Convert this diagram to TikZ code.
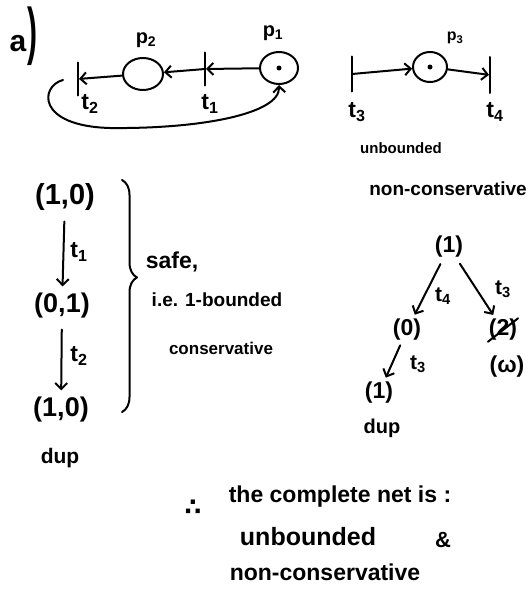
\documentclass[tikz,border=0pt]{standalone}
\usepackage{fontspec}
\setmainfont{Liberation Sans}
\newfontfamily\dejavu{DejaVu Sans}
\usetikzlibrary{arrows.meta,shapes.geometric,decorations.pathreplacing}
\begin{document}
\begin{tikzpicture}[x=1pt,y=-1pt, line width=2pt, line cap=round, line join=round,
  fs/.style={font=\fontsize{#1}{#1}\selectfont\bfseries},
  txt/.style={inner sep=0pt},
  place/.style={draw, ellipse, inner sep=0pt},
  bar/.style={draw, rectangle, minimum width=0pt, inner sep=0pt},
  tok/.style={fill, circle, inner sep=0pt, minimum size=5pt},
  arr/.style={-{Straight Barb[length=6pt,width=12pt,line width=2pt]}},
  bracedeco/.style={decorate, decoration={brace, amplitude=15pt, aspect=0.42}},
]
\useasboundingbox (0,0) rectangle (530,589);

% a)
\node[txt,fs=30] (a) at (18,44) {a};
\node[txt,anchor=north,fs=30] (par) at (32,6) {\scalebox{1}[2.1]{)}};

% left net
\node[place, minimum width=40pt, minimum height=32pt] (p2) at (143,74) {};
\node[place, minimum width=38pt, minimum height=32pt] (p1) at (279,68) {};
\node[tok] (k1) at (p1) {};
\node[bar, minimum height=33pt] (t1) at (205,69) {};
\node[bar, minimum height=33pt] (t2) at (78,79) {};
\draw[arr] (p1) -- (t1);
\draw[arr] (t1) -- (p2);
\draw[arr] (p2) -- (t2);
\coordinate (l0) at (63,80);
\draw[arr] (l0) .. controls (40,86) and (36,126) .. (110,128)
  .. controls (200,129) and (280,114) .. (p1.south);
\node[txt,fs=20] (lp2) at (146,40) {p\textsubscript{2}};
\node[txt,fs=20] (lp1) at (273,33) {p\textsubscript{1}};
\node[txt,fs=23] (lt1) at (210,104) {t\textsubscript{1}};
\node[txt,fs=23] (lt2) at (90,104) {t\textsubscript{2}};

% right net
\node[bar, minimum height=35pt] (t3) at (352,74) {};
\node[place, minimum width=34pt, minimum height=30pt] (p3) at (430,67) {};
\node[tok] (k3) at (p3) {};
\node[bar, minimum height=36pt] (t4) at (490,75) {};
\draw[arr] (t3) -- (p3);
\draw[arr] (p3) -- (t4);
\node[txt,fs=16] (lp3) at (455,38) {p\textsubscript{3}};
\node[txt,fs=23] (lt3) at (357,112) {t\textsubscript{3}};
\node[txt,fs=23] (lt4) at (495,112) {t\textsubscript{4}};
\node[txt,fs=15] (ub1) at (401,148) {unbounded};
\node[txt,fs=19] (nc1) at (448,189) {non-conservative};

% left reachability
\node[txt,fs=29] (s1) at (65,197) {(1,0)};
\node[txt,fs=27] (s2) at (62,306) {(0,1)};
\node[txt,fs=27] (s3) at (61,410) {(1,0)};
\node[txt,fs=21] (d1) at (60,458) {dup};
\draw[arr, shorten <=10pt, shorten >=6pt] (s1) -- (s2);
\draw[arr, shorten <=10pt, shorten >=6pt] (s2) -- (s3);
\node[txt,fs=23] (e1) at (79,252) {t\textsubscript{1}};
\node[txt,fs=23] (e2) at (79,356) {t\textsubscript{2}};
\coordinate (bt) at (122,180);
\coordinate (bb) at (122,412);
\draw[bracedeco] (bt) -- (bb);
\node[txt,fs=23] (safe) at (172,262) {safe,};
\node[txt,fs=19] (ie) at (217,300) {i.e. 1-bounded};
\node[txt,fs=17] (cons) at (221,348) {conservative};

% right tree
\node[txt,fs=23] (r1) at (449,247) {(1)};
\node[txt,fs=23] (n0) at (407,330) {(0)};
\node[txt,fs=23] (n2) at (503,330) {(2)};
\node[txt,fs=23] (nw) at (507,367) {(ω)};
\node[txt,fs=23] (n1) at (379,393) {(1)};
\node[txt,fs=20] (d2) at (382,428) {dup};
\draw[arr, shorten <=6pt, shorten >=4pt] (r1) -- (n0);
\draw[arr, shorten <=6pt, shorten >=4pt] (r1) -- (n2);
\draw (n2.south west) -- (n2.north east);
\draw[arr, shorten <=4pt, shorten >=4pt] (n0) -- (n1);
\node[txt,fs=21] (e3) at (443,296) {t\textsubscript{4}};
\node[txt,fs=21] (e4) at (503,289) {t\textsubscript{3}};
\node[txt,fs=21] (e5) at (418,364) {t\textsubscript{3}};

% conclusion
\node[txt,font=\fontsize{24}{24}\selectfont\dejavu\bfseries] (th) at (193,508) {∴};
\node[txt,fs=23] (c1) at (340,497) {the complete net is :};
\node[txt,fs=25] (c2) at (308,537) {unbounded};
\node[txt,fs=22] (amp) at (443,540) {\&};
\node[txt,fs=23] (c3) at (325,572) {non-conservative};
\end{tikzpicture}
\end{document}
